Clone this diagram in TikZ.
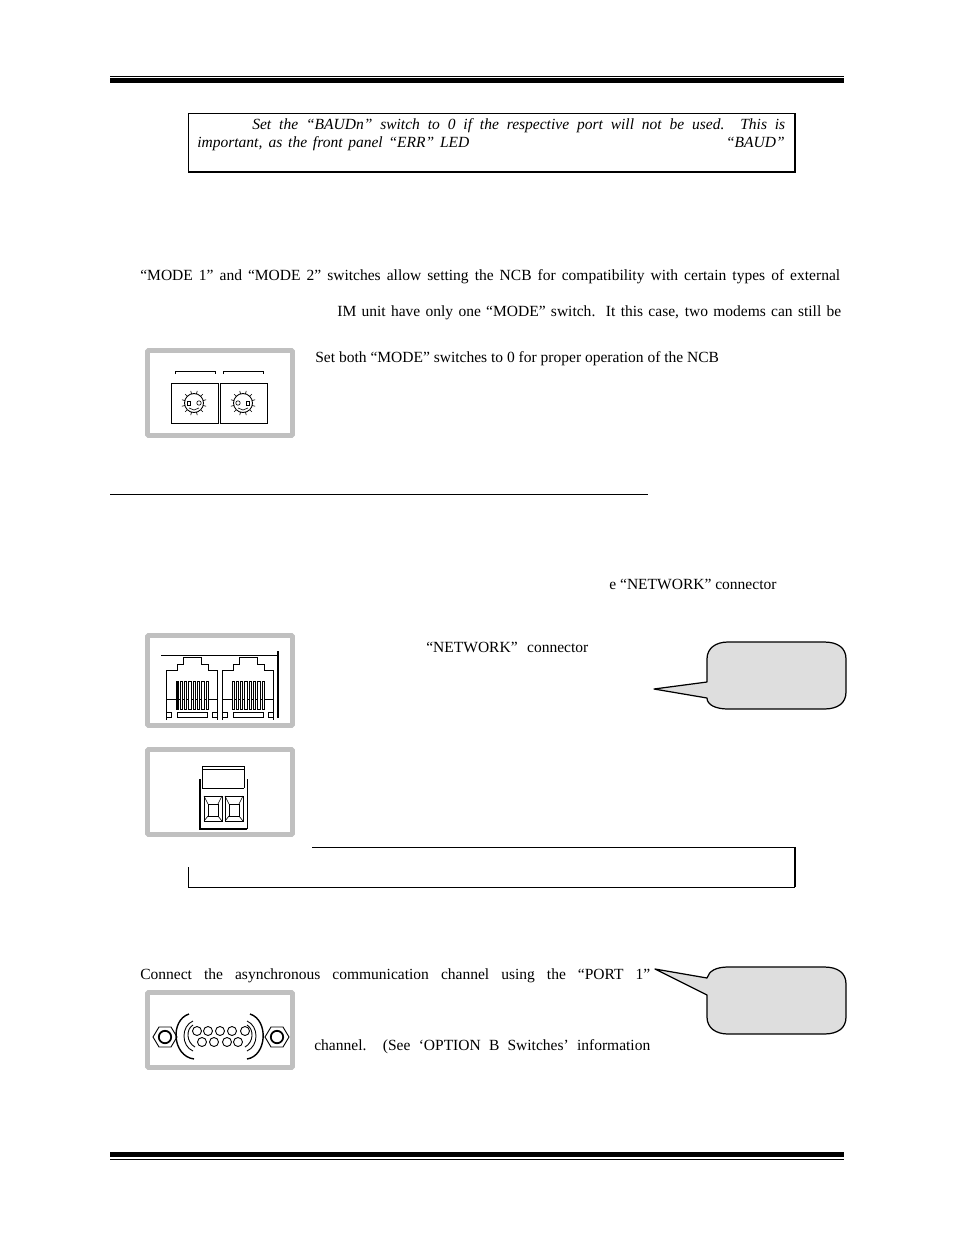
\documentclass[tikz,border=0pt]{standalone}
\usepackage{fontspec}
\setmainfont{Liberation Serif}
\usetikzlibrary{calc}
\definecolor{panelgray}{HTML}{C0C0C0}
\definecolor{calloutgray}{HTML}{DEDEDE}
\tikzset{
  txt/.style={anchor=base west,inner sep=0pt,font=\fontsize{8.83}{10}\selectfont},
  panel/.style={draw=panelgray,line width=2.7pt,fill=white,rounded corners=0.5pt},
  callout/.style={draw=black,line width=0.7pt,fill=calloutgray,line join=round},
  thinline/.style={line width=0.5pt},
  hairline/.style={line width=0.35pt},
  boldline/.style={line width=1.1pt}
}
\newcommand{\fitline}[2]{\makebox[#1][s]{#2}}
\begin{document}
\begin{tikzpicture}[x=0.02cm,y=-0.02cm]
\useasboundingbox (0,0) rectangle (954,1235);
% page rules
\draw[hairline] (110,76) -- (844,76);
\fill (110,78) rectangle (844,83);
\fill (110,1152) rectangle (844,1157);
\draw[hairline] (110,1159) -- (844,1159);
\draw[hairline] (110,494) -- (648,494);
% first note
\draw[hairline] (188,172) -- (188,113) -- (795,113);
\draw[boldline] (795,113) -- (795,172) -- (188,172);
\node[txt] (noteA) at (252,129) {\fitline{303.3pt}{\itshape Set the “BAUDn” switch to 0 if the respective port will not be used.\ \ This is}};
\node[txt] (noteB) at (197,147) {\fitline{154.8pt}{\itshape important, as the front panel “ERR” LED}};
\node[txt,anchor=base east] (noteC) at (785,147) {\itshape “BAUD”};
% mode text
\node[txt] (modeA) at (140,280) {\fitline{398.3pt}{“MODE 1” and “MODE 2” switches allow setting the NCB for compatibility with certain types of external}};
\node[txt] (modeB) at (337,316) {\fitline{286.8pt}{IM unit have only one “MODE” switch.\ \ It this case, two modems can still be}};
\node[txt] (modeC) at (315,362) {Set both “MODE” switches to 0 for proper operation of the NCB};
% mode panel
\draw[panel] (147.5,350.5) rectangle (292.5,435.5);
\draw[thinline] (175,374) -- (175,371) -- (215,371) -- (215,374);
\draw[thinline] (223,374) -- (223,371) -- (263,371) -- (263,374);
\draw[thinline] (171,383) rectangle (218,423);
\draw[thinline] (220,383) rectangle (267,423);
\foreach \cx/\px in {194/-5,243/5}{
  \draw[thinline] (\cx,403) circle (9.5);
  \foreach \ang in {15,45,...,345}
    \draw[hairline] ($(\cx,403)+(\ang:9.5)$) -- ($(\cx,403)+(\ang:12.5)$);
  \draw[hairline] (\cx+\px-1.7,401) rectangle (\cx+\px+1.7,405);
  \draw[hairline] (\cx-\px,403) circle (2.2);
  \draw[hairline] (\cx-5,408) -- (\cx,410) -- (\cx+5,408);
}
% network text
\node[txt] (netA) at (609,589) {e “NETWORK” connector};
\node[txt] (netB) at (426,652) {\fitline{92.2pt}{“NETWORK”\ \ connector}};
% network panel
\draw[panel] (147.5,635.5) rectangle (292.5,725.5);
\draw[thinline] (161,655) -- (278,655);
\draw[line width=1.2pt] (278,651) -- (278,718);
\foreach \dx in {0,56}{
  \begin{scope}[xshift=\dx*0.02cm]
  \draw[thinline] (166,720) -- (166,670) -- (177,670) -- (177,664) -- (183,664) -- (183,657)
    -- (201,657) -- (201,664) -- (208,664) -- (208,670) -- (217,670) -- (217,720);
  \draw[thinline] (166,699) -- (217,699);
  \foreach \sx in {176,180.3,...,207}
    \draw[thinline,fill=white] (\sx,681) rectangle (\sx+2.3,709);
  \draw[thinline] (177,712) rectangle (207,717);
  \draw[thinline] (166,712) -- (171,712) -- (171,717) -- (166,717);
  \draw[thinline] (217,712) -- (212,712) -- (212,717) -- (217,717);
  \end{scope}
}
\fill (175.5,681) rectangle (178,709);
% terminal panel
\draw[panel] (147.5,749.5) rectangle (292.5,834.5);
\draw[thinline] (202,788) -- (202,766) -- (244,766) -- (244,788);
\draw[thinline] (202,769) -- (244,769);
\draw[thinline] (202,788) -- (244,788);
\draw[line width=0.9pt] (200,779) -- (200,829) -- (247,829);
\draw[thinline] (247,829) -- (247,779);
\foreach \dx in {0,21}{
  \draw[thinline] (204+\dx,796) rectangle (222+\dx,821);
  \draw[thinline] (208+\dx,804) rectangle (218+\dx,816);
  \draw[hairline] (204+\dx,796) -- (208+\dx,804);
  \draw[hairline] (222+\dx,796) -- (218+\dx,804);
  \draw[hairline] (204+\dx,821) -- (208+\dx,816);
  \draw[hairline] (222+\dx,821) -- (218+\dx,816);
}
% second note
\draw[thinline] (312,847) -- (795,847);
\draw[thinline] (188,867) -- (188,887) -- (795,887);
\draw[boldline] (795,847) -- (795,887);
% port text
\node[txt] (portA) at (140,979) {\fitline{290.2pt}{Connect the asynchronous communication channel using the “PORT 1”}};
\node[txt] (portB) at (314,1050) {\fitline{191.2pt}{channel.\ \ (See ‘OPTION B Switches’ information}};
% port panel
\draw[panel] (147.5,992.5) rectangle (292.5,1067.5);
\foreach \cx in {165,277}{
  \draw[thinline] (\cx-12,1037) -- (\cx-6,1027) -- (\cx+6,1027) -- (\cx+12,1037) -- (\cx+6,1047) -- (\cx-6,1047) -- cycle;
  \draw[line width=1pt] (\cx,1037) circle (6.2);
}
\foreach \px in {197,208,220,232,245}
  \draw[thinline] (\px,1031) circle (4.5);
\foreach \px in {202,214,227,238}
  \draw[thinline] (\px,1042) circle (4.5);
\draw[line width=0.8pt] (189,1014) .. controls (170,1020) and (172,1056) .. (194,1059);
\draw[line width=0.8pt] (250,1014) .. controls (269,1020) and (267,1056) .. (247,1059);
\draw[thinline] (193,1021) .. controls (181,1026) and (181,1046) .. (193,1051);
\draw[thinline] (247,1021) .. controls (259,1026) and (259,1046) .. (247,1051);
\draw[thinline] (193,1025) .. controls (186,1029) and (186,1042) .. (195,1047);
\draw[thinline] (247,1025) .. controls (254,1029) and (254,1042) .. (245,1047);
% callouts
\coordinate (tipA) at (654,689);
\coordinate (tipB) at (655,969);
\draw[callout] (707,682) -- (tipA) -- (707,698) .. controls (707,705) and (716,709) .. (728,709) -- (824,709)
  .. controls (838,709) and (846,703) .. (846,692) -- (846,659) .. controls (846,648) and (838,642) .. (824,642)
  -- (728,642) .. controls (716,642) and (707,648) .. (707,659) -- cycle;
\draw[callout] (707,978) -- (tipB) -- (707,995) -- (707,1017) .. controls (707,1028) and (716,1034) .. (728,1034) -- (824,1034)
  .. controls (838,1034) and (846,1028) .. (846,1017) -- (846,984) .. controls (846,973) and (838,967) .. (824,967)
  -- (728,967) .. controls (716,967) and (709,971) .. cycle;
\end{tikzpicture}
\end{document}
